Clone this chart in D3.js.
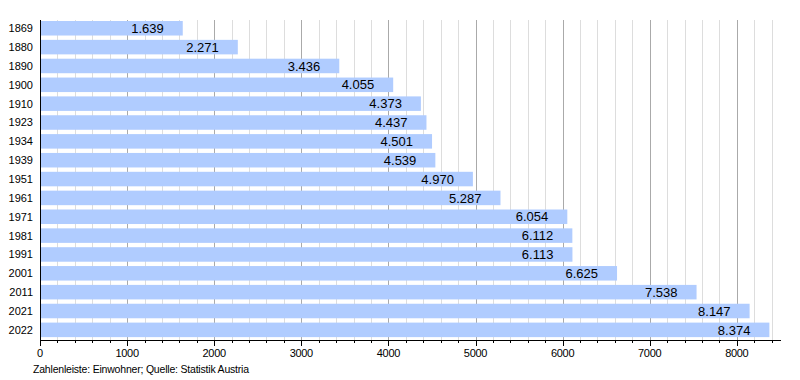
<!DOCTYPE html>
<meta charset="utf-8">
<style>
body { margin: 0; background: #fff; }
svg { display: block; font-family: "Liberation Sans", Arial, sans-serif; }
</style>
<script src="https://cdnjs.cloudflare.com/ajax/libs/d3/7.8.5/d3.min.js"></script>
<body></body>
<script>

var years = ['1869', '1880', '1890', '1900', '1910', '1923', '1934', '1939', '1951',
  '1961', '1971', '1981', '1991', '2001', '2011', '2021', '2022'];
var population = [1639, 2271, 3436, 4055, 4373, 4437, 4501, 4539, 4970,
  5287, 6054, 6112, 6113, 6625, 7538, 8147, 8374];
var tickValues = [0, 1000, 2000, 3000, 4000, 5000, 6000, 7000, 8000];
var note = 'Zahlenleiste: Einwohner; Quelle: Statistik Austria';

var width = 800, height = 380;
var plotLeft = 40, plotTop = 20, plotBottom = 340;
var step = 18.85;

var svg = d3.select('body').append('svg')
  .attr('width', width)
  .attr('height', height);

var x = d3.scaleLinear().domain([0, 1000]).range([plotLeft, plotLeft + 87.1]);
var y = d3.scaleBand().domain(years)
  .range([21, 21 + step * (years.length - 0.23)])
  .paddingInner(0.23).paddingOuter(0);

var fmt = function(v) { return d3.format('.3f')(v / 1000); };
var px = function(d) { return Math.round(x(d)) + 0.5; };

// gridlines: minor every 200, major every 1000
var minor = d3.range(200, 8600, 200).filter(function(v) { return v % 1000 !== 0; });
svg.append('g').selectAll('line')
  .data(minor)
  .enter().append('line')
  .attr('x1', px).attr('x2', px)
  .attr('y1', plotTop).attr('y2', plotBottom)
  .attr('stroke', '#dddddd');

svg.append('g').selectAll('line')
  .data(tickValues.slice(1))
  .enter().append('line')
  .attr('x1', px).attr('x2', px)
  .attr('y1', plotTop).attr('y2', plotBottom)
  .attr('stroke', '#aaaaaa');

// bars
svg.append('g').selectAll('rect')
  .data(population)
  .enter().append('rect')
  .attr('x', x(0))
  .attr('y', function(d, i) { return y(years[i]); })
  .attr('width', function(d) { return x(d) - x(0); })
  .attr('height', y.bandwidth())
  .attr('fill', '#b0ccff');

// value labels
svg.append('g').selectAll('text')
  .data(population)
  .enter().append('text')
  .attr('x', function(d) { return x(d) - 19; })
  .attr('y', function(d, i) { return y(years[i]) + y.bandwidth() / 2; })
  .attr('dy', '0.36em')
  .attr('text-anchor', 'end')
  .attr('font-size', 13)
  .attr('fill', '#000')
  .text(fmt);

// year labels
svg.append('g').selectAll('text')
  .data(years)
  .enter().append('text')
  .attr('x', 33)
  .attr('y', function(d) { return y(d) + y.bandwidth() / 2; })
  .attr('dy', '0.36em')
  .attr('text-anchor', 'end')
  .attr('font-size', 11)
  .text(function(d) { return d; });

// axes
svg.append('line')
  .attr('x1', plotLeft + 0.5).attr('x2', plotLeft + 0.5)
  .attr('y1', plotTop).attr('y2', plotBottom + 6)
  .attr('stroke', '#000');

svg.append('line')
  .attr('x1', plotLeft).attr('x2', 781)
  .attr('y1', plotBottom + 0.5).attr('y2', plotBottom + 0.5)
  .attr('stroke', '#000');

svg.append('g').selectAll('line')
  .data(minor)
  .enter().append('line')
  .attr('x1', px).attr('x2', px)
  .attr('y1', plotBottom).attr('y2', plotBottom + 3)
  .attr('stroke', '#000');

svg.append('g').selectAll('line')
  .data(tickValues)
  .enter().append('line')
  .attr('x1', px).attr('x2', px)
  .attr('y1', plotBottom).attr('y2', plotBottom + 6)
  .attr('stroke', '#000');

svg.append('g').selectAll('text')
  .data(tickValues)
  .enter().append('text')
  .attr('x', function(d) { return x(d); })
  .attr('y', 357)
  .attr('text-anchor', 'middle')
  .attr('font-size', 11)
  .attr('letter-spacing', -0.3)
  .text(function(d) { return d; });

svg.append('text')
  .attr('x', 33)
  .attr('y', 373)
  .attr('font-size', 10.5)
  .attr('letter-spacing', -0.2)
  .text(note);

</script>
